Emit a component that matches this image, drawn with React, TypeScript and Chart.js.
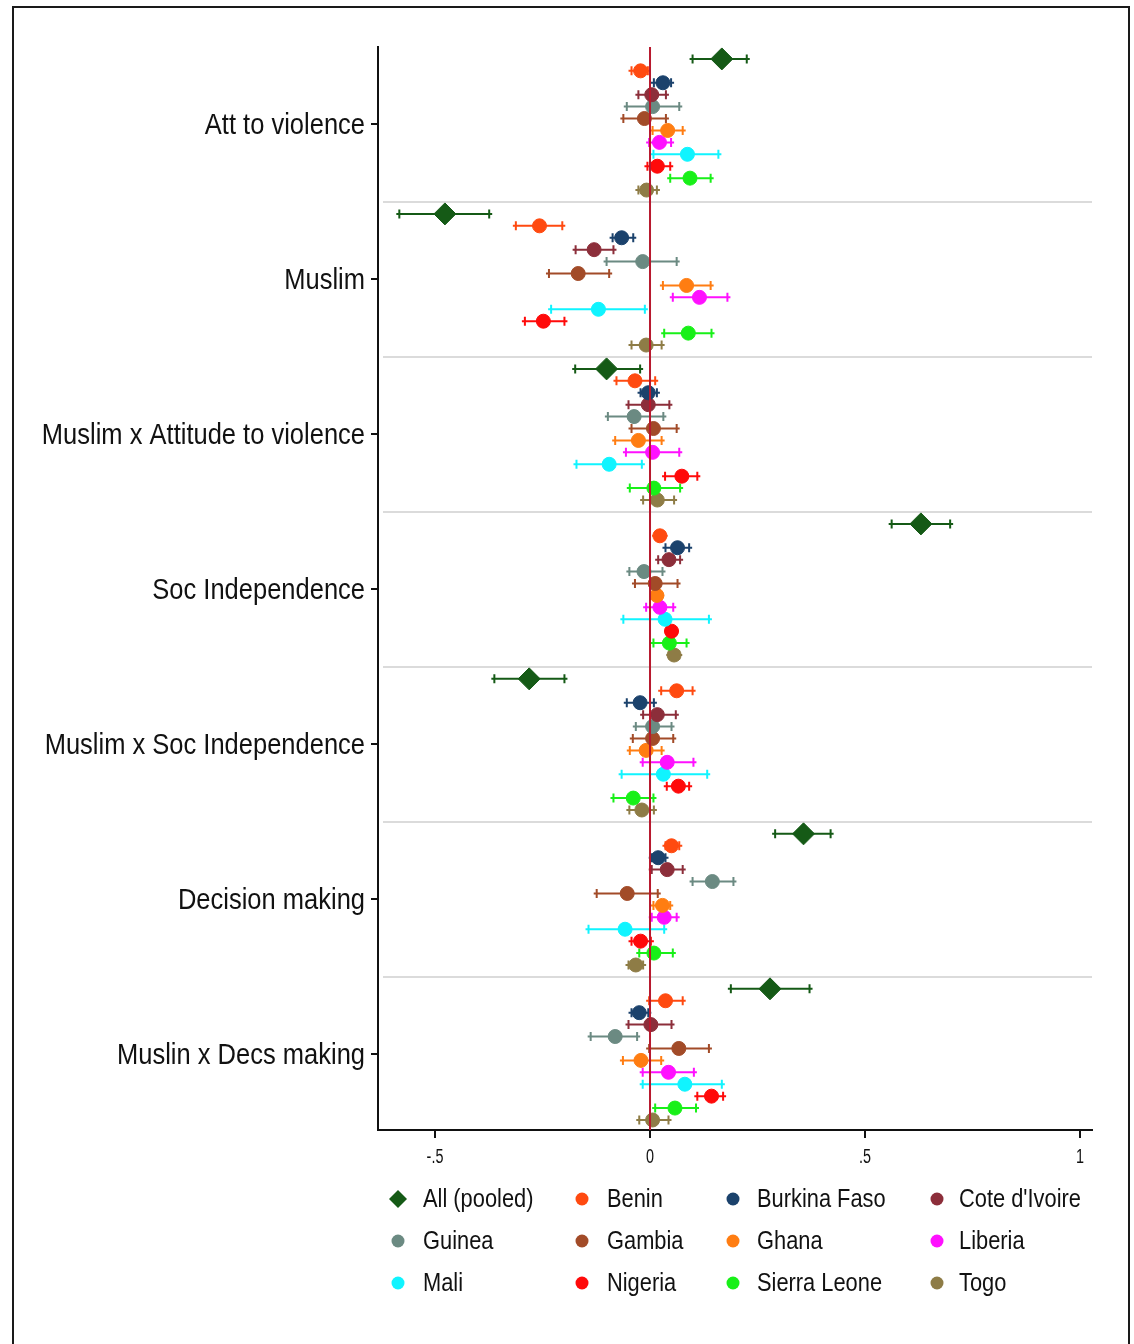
import React, { useEffect, useRef } from "react";
import { Chart, registerables } from "chart.js";

Chart.register(...registerables);

// Outcome groups, top to bottom
const outcomes = [
  "Att to violence",
  "Muslim",
  "Muslim x Attitude to violence",
  "Soc Independence",
  "Muslim x Soc Independence",
  "Decision making",
  "Muslin x Decs making",
];

const countries = [
  "All (pooled)",
  "Benin",
  "Burkina Faso",
  "Cote d'Ivoire",
  "Guinea",
  "Gambia",
  "Ghana",
  "Liberia",
  "Mali",
  "Nigeria",
  "Sierra Leone",
  "Togo",
];

const countryColors = [
  "#155a16",
  "#ff4a10",
  "#1b426c",
  "#8c2e3a",
  "#6b8a82",
  "#a24b28",
  "#ff7d12",
  "#ff10ff",
  "#10f4ff",
  "#ff0a0a",
  "#18f018",
  "#8e7c46",
];

// [estimate, lower CI, upper CI] for each outcome, in the order of `outcomes`
const allPooled = [
  [0.167, 0.099, 0.225],
  [-0.477, -0.583, -0.374],
  [-0.101, -0.174, -0.023],
  [0.63, 0.562, 0.698],
  [-0.281, -0.362, -0.199],
  [0.357, 0.291, 0.42],
  [0.279, 0.188, 0.371],
];
const benin = [
  [-0.022, -0.043, -0.005],
  [-0.257, -0.312, -0.204],
  [-0.035, -0.078, 0.012],
  [0.023, 0.012, 0.034],
  [0.062, 0.026, 0.099],
  [0.05, 0.036, 0.068],
  [0.036, -0.002, 0.076],
];
const burkinaFaso = [
  [0.03, 0.009, 0.049],
  [-0.066, -0.087, -0.039],
  [-0.004, -0.022, 0.016],
  [0.064, 0.036, 0.091],
  [-0.023, -0.054, 0.009],
  [0.019, 0.004, 0.036],
  [-0.025, -0.043, -0.004],
];
const coteDIvoire = [
  [0.004, -0.027, 0.037],
  [-0.13, -0.173, -0.085],
  [-0.004, -0.05, 0.045],
  [0.044, 0.019, 0.07],
  [0.017, -0.016, 0.06],
  [0.04, 0.004, 0.076],
  [0.002, -0.05, 0.05],
];
const guinea = [
  [0.006, -0.054, 0.068],
  [-0.017, -0.101, 0.062],
  [-0.037, -0.098, 0.031],
  [-0.014, -0.048, 0.029],
  [0.006, -0.033, 0.05],
  [0.145, 0.099, 0.194],
  [-0.081, -0.138, -0.03],
];
const gambia = [
  [-0.013, -0.062, 0.037],
  [-0.167, -0.235, -0.095],
  [0.008, -0.043, 0.062],
  [0.012, -0.035, 0.064],
  [0.006, -0.04, 0.054],
  [-0.053, -0.124, 0.018],
  [0.067, -0.002, 0.137],
];
const ghana = [
  [0.041, 0.006, 0.076],
  [0.085, 0.03, 0.141],
  [-0.027, -0.081, 0.027],
  [0.016, 0.006, 0.026],
  [-0.009, -0.047, 0.027],
  [0.029, 0.008, 0.047],
  [-0.021, -0.063, 0.026],
];
const liberia = [
  [0.022, -0.002, 0.049],
  [0.115, 0.053, 0.18],
  [0.006, -0.056, 0.068],
  [0.023, -0.009, 0.054],
  [0.04, -0.017, 0.101],
  [0.033, 0.004, 0.062],
  [0.043, -0.017, 0.102],
];
const mali = [
  [0.087, 0.008, 0.159],
  [-0.12, -0.23, -0.012],
  [-0.095, -0.171, -0.019],
  [0.035, -0.062, 0.137],
  [0.031, -0.066, 0.133],
  [-0.058, -0.143, 0.033],
  [0.081, -0.017, 0.167],
];
const nigeria = [
  [0.017, -0.006, 0.047],
  [-0.248, -0.291, -0.199],
  [0.074, 0.035, 0.11],
  [0.05, 0.04, 0.06],
  [0.066, 0.039, 0.091],
  [-0.022, -0.043, 0.002],
  [0.143, 0.11, 0.17],
];
const sierraLeone = [
  [0.093, 0.047, 0.141],
  [0.089, 0.033, 0.143],
  [0.009, -0.047, 0.07],
  [0.045, 0.008, 0.085],
  [-0.039, -0.085, 0.008],
  [0.009, -0.025, 0.053],
  [0.058, 0.012, 0.107],
];
const togo = [
  [-0.008, -0.027, 0.016],
  [-0.009, -0.043, 0.027],
  [0.017, -0.016, 0.056],
  [0.056, 0.045, 0.068],
  [-0.019, -0.048, 0.009],
  [-0.033, -0.05, -0.016],
  [0.006, -0.025, 0.043],
];

const seriesValues = [
  allPooled,
  benin,
  burkinaFaso,
  coteDIvoire,
  guinea,
  gambia,
  ghana,
  liberia,
  mali,
  nigeria,
  sierraLeone,
  togo,
];

const xTickValues = [-0.5, 0, 0.5, 1];
const xTickLabels = ["-.5", "0", ".5", "1"];

const ROWS_PER_GROUP = 13; // 12 estimates plus one spacer slot

function drawScaledText(
  ctx: CanvasRenderingContext2D,
  text: string,
  x: number,
  y: number,
  font: string,
  sx: number,
  align: CanvasTextAlign
) {
  ctx.save();
  ctx.font = font;
  ctx.textAlign = align;
  ctx.textBaseline = "middle";
  ctx.fillStyle = "#111";
  ctx.translate(x, y);
  ctx.scale(sx, 1);
  ctx.fillText(text, 0, 0);
  ctx.restore();
}

const coefPlugin = {
  id: "coefPlot",
  beforeDatasetsDraw(chart: any) {
    const { ctx, chartArea, scales } = chart;
    const xs = scales.x;
    const ys = scales.y;
    // light separators between outcome groups
    ctx.save();
    ctx.strokeStyle = "#cfcfcf";
    ctx.lineWidth = 1.5;
    for (let g = 1; g < outcomes.length; g++) {
      const y = ys.getPixelForValue(g * ROWS_PER_GROUP);
      ctx.beginPath();
      ctx.moveTo(chartArea.left + 5, y);
      ctx.lineTo(chartArea.right, y);
      ctx.stroke();
    }
    // confidence intervals with end caps
    chart.data.datasets.forEach((ds: any) => {
      ctx.strokeStyle = ds.borderColor;
      ctx.lineWidth = 2;
      ds.data.forEach((d: any) => {
        const y = ys.getPixelForValue(d.y);
        const xl = xs.getPixelForValue(d.lo);
        const xh = xs.getPixelForValue(d.hi);
        ctx.beginPath();
        ctx.moveTo(xl - 3, y);
        ctx.lineTo(xh + 3, y);
        ctx.moveTo(xl, y - 4.5);
        ctx.lineTo(xl, y + 4.5);
        ctx.moveTo(xh, y - 4.5);
        ctx.lineTo(xh, y + 4.5);
        ctx.stroke();
      });
    });
    ctx.restore();
  },
  afterDatasetsDraw(chart: any) {
    const { ctx, chartArea, scales } = chart;
    const x0 = scales.x.getPixelForValue(0);
    ctx.save();
    ctx.strokeStyle = "#b8192e";
    ctx.lineWidth = 2;
    ctx.beginPath();
    ctx.moveTo(x0, chartArea.top);
    ctx.lineTo(x0, chartArea.bottom);
    ctx.stroke();
    ctx.restore();
  },
  afterDraw(chart: any) {
    const { ctx, chartArea, scales } = chart;
    // outcome labels on the y axis
    outcomes.forEach((name, g) => {
      const y = scales.y.getPixelForValue(g * ROWS_PER_GROUP + 6.5);
      drawScaledText(ctx, name, chartArea.left - 13, y + 1, "30px 'Liberation Sans', Arial, sans-serif", 0.85, "right");
    });
    // x tick labels
    xTickValues.forEach((v, i) => {
      const x = scales.x.getPixelForValue(v);
      drawScaledText(ctx, xTickLabels[i], x, chartArea.bottom + 27, "20px 'Liberation Sans', Arial, sans-serif", 0.72, "center");
    });
    // legend: 3 rows x 4 columns
    const markerX = [398, 582, 733, 937];
    const textX = [423, 607, 757, 959];
    const rowY = [1199, 1241, 1283];
    countries.forEach((name, i) => {
      const col = i % 4;
      const row = Math.floor(i / 4);
      const mx = markerX[col];
      const my = rowY[row];
      ctx.save();
      ctx.fillStyle = countryColors[i];
      ctx.beginPath();
      if (i === 0) {
        ctx.moveTo(mx, my - 9);
        ctx.lineTo(mx + 9, my);
        ctx.lineTo(mx, my + 9);
        ctx.lineTo(mx - 9, my);
        ctx.closePath();
      } else {
        ctx.arc(mx, my, 6.5, 0, Math.PI * 2);
      }
      ctx.fill();
      ctx.restore();
      drawScaledText(ctx, name, textX[col], my + 1, "26px 'Liberation Sans', Arial, sans-serif", 0.84, "left");
    });
    // outer frame
    ctx.save();
    ctx.strokeStyle = "#1a1a1a";
    ctx.lineWidth = 2;
    ctx.strokeRect(13, 7, 1116, 1400);
    ctx.restore();
  },
};

export default function App() {
  const canvasRef = useRef<HTMLCanvasElement | null>(null);

  useEffect(() => {
    const canvas = canvasRef.current;
    if (!canvas) return;

    const datasets = countries.map((name, r) => ({
      label: name,
      data: seriesValues[r].map((v, g) => ({
        x: v[0],
        y: g * ROWS_PER_GROUP + r + 1,
        lo: v[1],
        hi: v[2],
      })),
      backgroundColor: countryColors[r],
      borderColor: countryColors[r],
      borderWidth: 1,
      pointStyle: r === 0 ? "rectRot" : "circle",
      pointRadius: r === 0 ? 11 : 7,
      pointHoverRadius: r === 0 ? 11 : 7,
      showLine: false,
    }));

    const chart = new Chart(canvas, {
      type: "scatter",
      data: { datasets },
      plugins: [coefPlugin],
      options: {
        animation: false,
        responsive: false,
        devicePixelRatio: 1,
        layout: { padding: { left: 0, top: 47, right: 42, bottom: 174 } },
        plugins: { legend: { display: false }, tooltip: { enabled: false } },
        scales: {
          x: {
            type: "linear",
            min: -0.6326,
            max: 1.0279,
            afterBuildTicks: (scale: any) => {
              scale.ticks = xTickValues.map((value) => ({ value }));
            },
            afterFit: (scale: any) => {
              scale.height = 40;
            },
            ticks: { display: false },
            grid: {
              drawOnChartArea: false,
              drawTicks: true,
              tickLength: 8,
              color: "#111",
              lineWidth: 2,
            },
            border: { display: true, color: "#111", width: 2 },
          },
          y: {
            type: "linear",
            reverse: true,
            min: 0,
            max: 90.84,
            afterBuildTicks: (scale: any) => {
              scale.ticks = outcomes.map((_, g) => ({ value: g * ROWS_PER_GROUP + 6.5 }));
            },
            afterFit: (scale: any) => {
              scale.width = 378;
            },
            ticks: { display: false },
            grid: {
              drawOnChartArea: false,
              drawTicks: true,
              tickLength: 7,
              color: "#111",
              lineWidth: 2,
            },
            border: { display: true, color: "#111", width: 2 },
          },
        },
      },
    });

    return () => chart.destroy();
  }, []);

  return (
    <div style={{ position: "absolute", left: 0, top: 0, width: 1134, height: 1344, background: "#fff" }}>
      <canvas ref={canvasRef} width={1134} height={1344} style={{ display: "block" }} />
    </div>
  );
}
